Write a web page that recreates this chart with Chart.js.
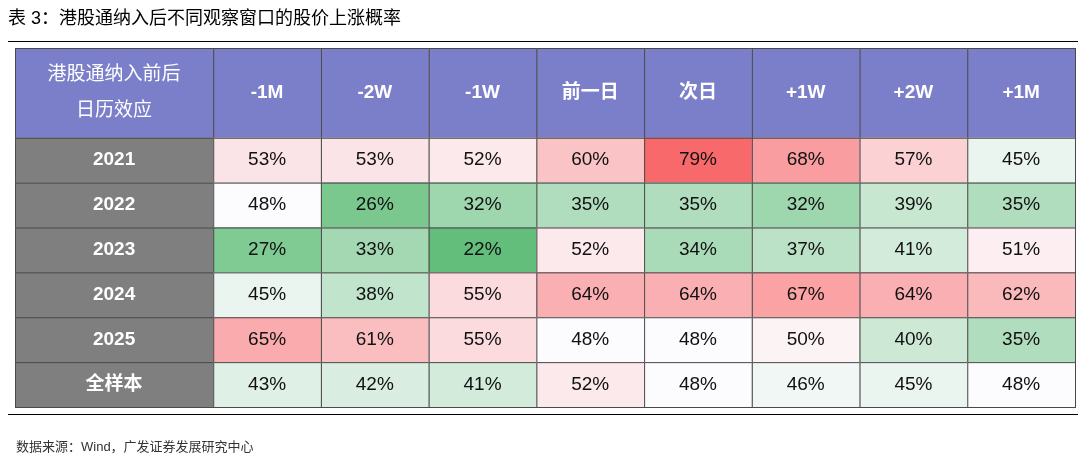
<!DOCTYPE html>
<html><head><meta charset="utf-8">
<script src="https://cdn.jsdelivr.net/npm/chart.js@4"></script>
<style>
body{margin:0;background:#fff;font-family:"Liberation Sans","Noto Sans CJK SC",sans-serif;}
#wrap{position:relative;width:1080px;height:455px;}
#title{position:absolute;left:8px;top:3px;font-size:18px;color:#000;}
#src{position:absolute;left:16px;top:436px;font-size:13px;color:#333;}
.rule{position:absolute;left:8px;width:1070px;border-top:1px solid #000;}
</style></head><body>
<div id="wrap">
<div id="title">表 3：港股通纳入后不同观察窗口的股价上涨概率</div>
<div class="rule" style="top:41px"></div>
<div class="rule" style="top:414px"></div>
<canvas id="c" width="1080" height="455"></canvas>
<div id="src">数据来源：Wind，广发证券发展研究中心</div>
</div>
<script>
const columns = ['-1M', '-2W', '-1W', '前一日', '次日', '+1W', '+2W', '+1M'];
const rows = ['2021', '2022', '2023', '2024', '2025', '全样本'];
const values = [
  [53, 53, 52, 60, 79, 68, 57, 45],
  [48, 26, 32, 35, 35, 32, 39, 35],
  [27, 33, 22, 52, 34, 37, 41, 51],
  [45, 38, 55, 64, 64, 67, 64, 62],
  [65, 61, 55, 48, 48, 50, 40, 35],
  [43, 42, 41, 52, 48, 46, 45, 48]
];
const cornerLabel = ['港股通纳入前后', '日历效应'];

const firstColW = 1.84;
const headerH = 2;
const all = values.flat();
const vMin = Math.min(...all), vMax = Math.max(...all), vMid = 48;

function mix(a, b, t) {
  return 'rgb(' + a.map((v, i) => Math.round(v + (b[i] - v) * t)).join(',') + ')';
}
function cellColor(v) {
  const red = [248, 105, 107], white = [252, 252, 255], green = [99, 190, 123];
  if (v >= vMid) return mix(white, red, (v - vMid) / (vMax - vMid));
  return mix(white, green, (vMid - v) / (vMid - vMin));
}

const tablePlugin = {
  id: 'table',
  afterDatasetsDraw(chart) {
    const ctx = chart.ctx, xs = chart.scales.x, ys = chart.scales.y;
    const X = v => xs.getPixelForValue(v), Y = v => ys.getPixelForValue(v);
    const cell = (x0, x1, y0, y1, fill, lines, font, color) => {
      const px0 = X(x0), px1 = X(x1), py0 = Y(y0), py1 = Y(y1);
      ctx.fillStyle = fill;
      ctx.fillRect(px0, py0, px1 - px0, py1 - py0);
      ctx.strokeStyle = '#4a4a4a';
      ctx.lineWidth = 1;
      ctx.strokeRect(px0 + 0.5, py0 + 0.5, px1 - px0, py1 - py0);
      ctx.fillStyle = color;
      ctx.font = font;
      ctx.textAlign = 'center';
      ctx.textBaseline = 'middle';
      const cx = (px0 + px1) / 2, cy = (py0 + py1) / 2, lh = 36;
      lines.forEach((t, i) => ctx.fillText(t, cx, cy + (i - (lines.length - 1) / 2) * lh));
    };
    const base = '19px "Liberation Sans","Noto Sans CJK SC",sans-serif';
    const bold = 'bold 19px "Liberation Sans","Noto Sans CJK SC",sans-serif';
    ctx.save();
    cell(0, firstColW, 0, headerH, '#7b7fc9', cornerLabel, base, '#fff');
    columns.forEach((c, j) => cell(firstColW + j, firstColW + j + 1, 0, headerH, '#7b7fc9', [c], bold, '#fff'));
    rows.forEach((r, i) => {
      const y0 = headerH + i;
      cell(0, firstColW, y0, y0 + 1, '#7f7f7f', [r], bold, '#fff');
      values[i].forEach((v, j) => cell(firstColW + j, firstColW + j + 1, y0, y0 + 1, cellColor(v), [v + '%'], base, '#111'));
    });
    ctx.restore();
  }
};

new Chart(document.getElementById('c'), {
  type: 'scatter',
  data: { datasets: [{ data: [] }] },
  options: {
    responsive: false,
    animation: false,
    layout: { padding: { left: 15, right: 5, top: 48, bottom: 48 } },
    plugins: { legend: { display: false }, tooltip: { enabled: false } },
    scales: {
      x: { type: 'linear', min: 0, max: firstColW + columns.length, display: false },
      y: { type: 'linear', min: 0, max: headerH + rows.length, reverse: true, display: false }
    }
  },
  plugins: [tablePlugin]
});
</script>
</body></html>
